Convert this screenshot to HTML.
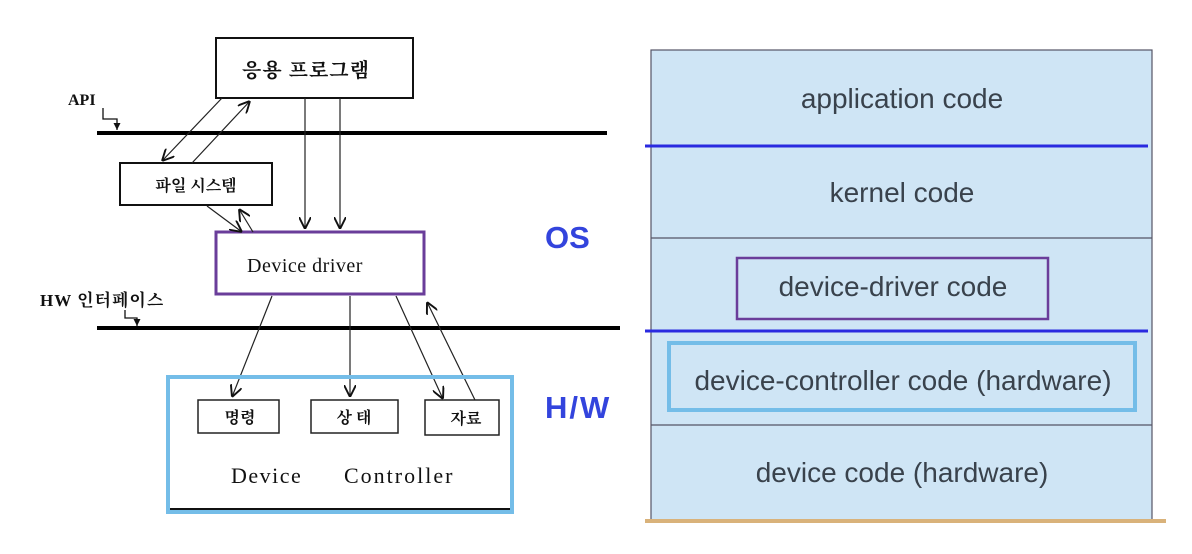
<!DOCTYPE html>
<html><head><meta charset="utf-8"><style>
html,body{margin:0;padding:0;background:#fff;}
svg{display:block}
.k{font-family:"Liberation Serif","Noto Serif CJK SC","NanumGothic",serif;font-weight:bold;fill:#111}
.n{font-family:"Liberation Serif","Noto Serif CJK SC",serif;fill:#111}
.s{font-family:"Liberation Sans","DejaVu Sans",sans-serif;fill:#39424c}
</style></head><body>
<svg width="1192" height="554" viewBox="0 0 1192 554" xmlns="http://www.w3.org/2000/svg">
<defs>
<marker id="a" viewBox="0 0 10 10" refX="10" refY="5" markerWidth="12" markerHeight="12" orient="auto" markerUnits="userSpaceOnUse">
<path d="M0,0 L10,5 L0,10" fill="none" stroke="#111" stroke-width="1.6"/></marker>
<marker id="t" viewBox="0 0 10 10" refX="10" refY="5" markerWidth="7" markerHeight="7" orient="auto" markerUnits="userSpaceOnUse">
<path d="M0,0 L10,5 L0,10 z" fill="#111"/></marker>
</defs>
<rect width="1192" height="554" fill="#fff"/>
<line x1="97" y1="133" x2="607" y2="133" stroke="#000" stroke-width="4"/>
<line x1="97" y1="328" x2="620" y2="328" stroke="#000" stroke-width="4"/>
<rect x="216" y="38" width="197" height="60" fill="#fff" stroke="#111" stroke-width="2"/>
<text x="306" y="77" text-anchor="middle" class="k" font-size="20" letter-spacing="1">응용 프로그램</text>
<rect x="120" y="163" width="152" height="42" fill="#fff" stroke="#111" stroke-width="2"/>
<text x="196" y="191" text-anchor="middle" class="k" font-size="16">파일 시스템</text>
<rect x="216" y="232" width="208" height="62" fill="#fff" stroke="#6a3d9a" stroke-width="3"/>
<text x="305" y="272" text-anchor="middle" class="n" font-size="20" letter-spacing="0.5">Device driver</text>
<text x="68" y="105" class="k" font-size="16">API</text>
<path d="M103,108 V119 H117 V130" fill="none" stroke="#111" stroke-width="1.3" marker-end="url(#t)"/>
<text x="40" y="306" class="k" font-size="17" letter-spacing="1">HW 인터페이스</text>
<path d="M125,310 V318 H137 V326" fill="none" stroke="#111" stroke-width="1.3" marker-end="url(#t)"/>
<line x1="305" y1="98" x2="305" y2="229" stroke="#222" stroke-width="1.2" marker-end="url(#a)"/>
<line x1="340" y1="98" x2="340" y2="229" stroke="#222" stroke-width="1.2" marker-end="url(#a)"/>
<line x1="222" y1="98" x2="162" y2="161" stroke="#222" stroke-width="1.2" marker-end="url(#a)"/>
<line x1="192" y1="163" x2="250" y2="101" stroke="#222" stroke-width="1.2" marker-end="url(#a)"/>
<line x1="207" y1="206" x2="242" y2="232" stroke="#222" stroke-width="1.2" marker-end="url(#a)"/>
<line x1="253" y1="232" x2="239" y2="209" stroke="#222" stroke-width="1.2" marker-end="url(#a)"/>
<line x1="272" y1="296" x2="232" y2="397" stroke="#222" stroke-width="1.2" marker-end="url(#a)"/>
<line x1="350" y1="296" x2="350" y2="397" stroke="#222" stroke-width="1.2" marker-end="url(#a)"/>
<line x1="396" y1="296" x2="443" y2="399" stroke="#222" stroke-width="1.2" marker-end="url(#a)"/>
<line x1="475" y1="400" x2="427" y2="302" stroke="#222" stroke-width="1.2" marker-end="url(#a)"/>
<rect x="168" y="377" width="344" height="135" fill="none" stroke="#74bde8" stroke-width="4"/>
<line x1="170" y1="509" x2="510" y2="509" stroke="#111" stroke-width="2"/>
<rect x="198" y="400" width="81" height="33" fill="#fff" stroke="#222" stroke-width="1.5"/>
<text x="240" y="423" text-anchor="middle" class="k" font-size="16">명령</text>
<rect x="311" y="400" width="87" height="33" fill="#fff" stroke="#222" stroke-width="1.5"/>
<text x="354" y="423" text-anchor="middle" class="k" font-size="16">상 태</text>
<rect x="425" y="400" width="74" height="35" fill="#fff" stroke="#222" stroke-width="1.5"/>
<text x="466" y="424" text-anchor="middle" class="k" font-size="16">자료</text>
<text x="231" y="483" class="n" font-size="22" letter-spacing="1.5">Device</text>
<text x="344" y="483" class="n" font-size="22" letter-spacing="2">Controller</text>
<text x="545" y="248" font-family="Liberation Sans,sans-serif" font-weight="bold" font-size="31" fill="#3344dd">OS</text>
<text x="545" y="418" font-family="Liberation Sans,sans-serif" font-weight="bold" font-size="31" fill="#3344dd" letter-spacing="2">H/W</text>
<rect x="651" y="50" width="501" height="471" fill="#cfe5f5" stroke="#556" stroke-width="1.2"/>
<line x1="651" y1="238" x2="1152" y2="238" stroke="#556" stroke-width="1.2"/>
<line x1="651" y1="425" x2="1152" y2="425" stroke="#556" stroke-width="1.2"/>
<line x1="645" y1="146" x2="1148" y2="146" stroke="#2a2ae0" stroke-width="3"/>
<line x1="645" y1="331" x2="1148" y2="331" stroke="#2a2ae0" stroke-width="3"/>
<line x1="645" y1="521" x2="1166" y2="521" stroke="#d9b27a" stroke-width="4"/>
<rect x="737" y="258" width="311" height="61" fill="none" stroke="#6a3d9a" stroke-width="2.5"/>
<rect x="669" y="343" width="466" height="67" fill="none" stroke="#74bde8" stroke-width="4"/>
<text x="902" y="108" text-anchor="middle" class="s" font-size="28">application code</text>
<text x="902" y="202" text-anchor="middle" class="s" font-size="28">kernel code</text>
<text x="893" y="296" text-anchor="middle" class="s" font-size="28">device-driver code</text>
<text x="903" y="390" text-anchor="middle" class="s" font-size="28">device-controller code (hardware)</text>
<text x="902" y="482" text-anchor="middle" class="s" font-size="28">device code (hardware)</text>
</svg>
</body></html>
